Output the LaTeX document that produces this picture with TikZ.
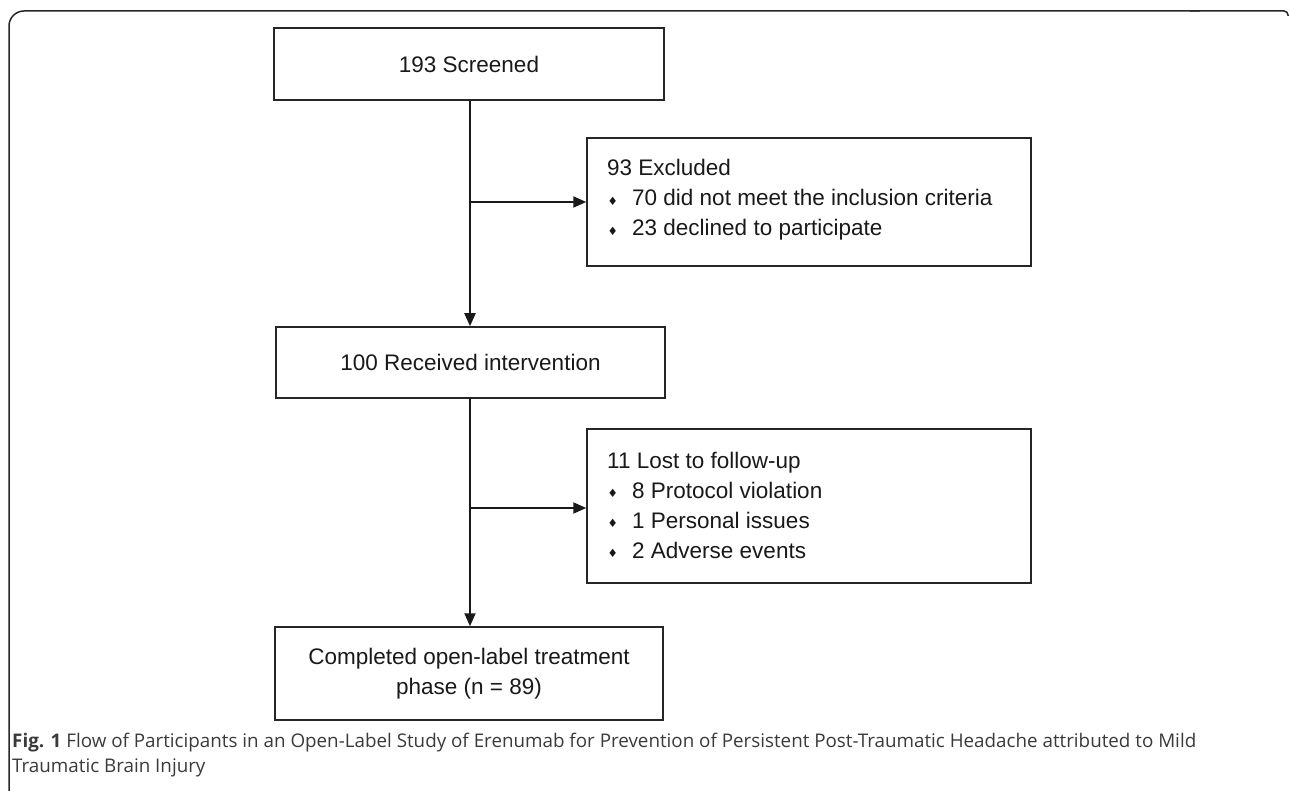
\documentclass[tikz,border=0pt]{standalone}
\usepackage{fontspec}
\setmainfont{Liberation Sans}
\newfontfamily\capfont{Open Sans}
\newfontfamily\symfont{DejaVu Sans}
\usetikzlibrary{arrows.meta}
\definecolor{capgray}{HTML}{3A3A3A}
\newcommand\bul{\makebox[25pt][l]{\hspace{0.5pt}\raisebox{0.5pt}{\symfont\fontsize{11.5}{11.5}\selectfont ♦}}}
\tikzset{
  box/.style={draw=black!85, line width=1.5pt, rectangle, inner sep=0pt},
  boxtext/.style={font=\fontsize{22.5}{30}\selectfont, text=black!90},
  listtext/.style={boxtext, anchor=base west, align=left, inner sep=0pt},
  conn/.style={draw=black!90, line width=2pt},
  arr/.style={conn, -{Triangle[length=13pt,width=11pt]}},
}
\begin{document}
\begin{tikzpicture}[x=1pt,y=-1pt]
\useasboundingbox (0,0) rectangle (1290,791);
% outer frame
\draw[line width=1.5pt, black!85, rounded corners=15pt] (9,791) -- (9,11) -- (1200,11);
\draw[line width=1.5pt, black!85, rounded corners=4pt] (1190,11) -- (1288,11) -- (1288,16);
% boxes
\node[box, minimum width=390pt, minimum height=72pt, boxtext] (scr) at (469,64) {193 Screened};
\node[box, minimum width=389pt, minimum height=71pt, boxtext] (rec) at (470.5,362.5) {100 Received intervention};
\node[box, minimum width=444pt, minimum height=128pt] (exc) at (809,202) {};
\node[box, minimum width=444pt, minimum height=154pt] (lost) at (809,506) {};
\node[box, minimum width=388pt, minimum height=93pt, boxtext, align=center] (comp) at (469,673.5) {Completed open-label treatment\\phase (n = 89)};
% list texts (base anchor = baseline of last line)
\node[listtext] (exct) at (607,236) {93 Excluded\\\bul 70 did not meet the inclusion criteria\\\bul 23 declined to participate};
\node[listtext] (lostt) at (607,558) {11 Lost to follow-up\\\bul 8 Protocol violation\\\bul 1 Personal issues\\\bul 2 Adverse events};
% connectors
\draw[arr] (scr.south -| 470,0) -- (rec.north -| 470,0);
\coordinate (j1) at (470,202);
\draw[arr] (j1) -- (exc.west |- j1);
\draw[arr] (rec.south -| 470,0) -- (comp.north -| 470,0);
\coordinate (j2) at (470,508);
\draw[arr] (j2) -- (lost.west |- j2);
% caption
\node[anchor=base west, inner sep=0pt, align=left, text=capgray, font=\capfont\fontsize{18.8}{25}\selectfont] (cap) at (12,772)
  {{\bfseries Fig. 1} Flow of Participants in an Open-Label Study of Erenumab for Prevention of Persistent Post-Traumatic Headache attributed to Mild\\Traumatic Brain Injury};
\end{tikzpicture}
\end{document}
